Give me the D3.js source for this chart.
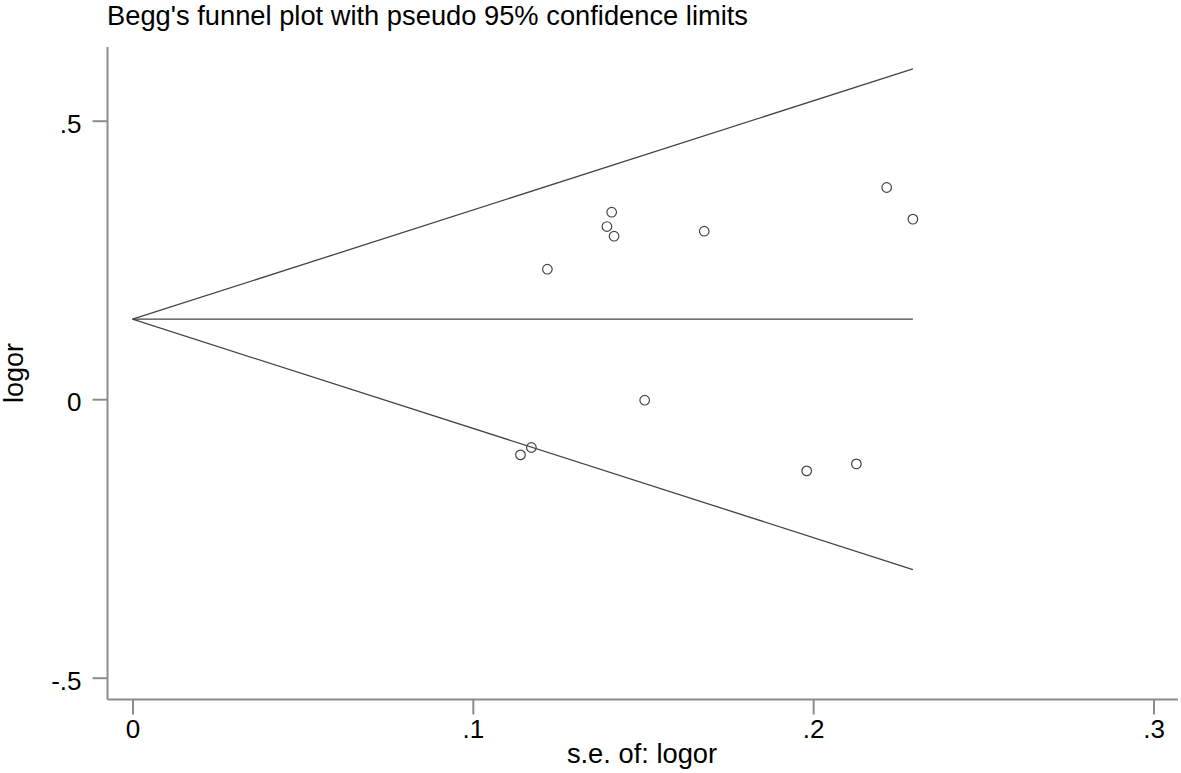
<!DOCTYPE html>
<html lang="en">
<head>
  <title>Begg's funnel plot</title>
  <meta charset="utf-8">
  <script src="https://d3js.org/d3.v7.min.js" charset="utf-8"></script>
  <style>
    body { margin: 0; background: #fff; }
    text { font-family: "Liberation Sans", Arial, sans-serif; fill: #000; }
  </style>
</head>
<body>
  <script>
  // study estimates
  var se    = [0.1219, 0.1408, 0.1394, 0.1415, 0.1680, 0.2216, 0.2293, 0.1505, 0.1140, 0.1172, 0.1981, 0.2127];
  var logor = [0.2334, 0.3357, 0.3100, 0.2926, 0.3016, 0.3801, 0.3232, -0.0018, -0.1000, -0.0867, -0.1287, -0.1162];

  // pseudo 95% limits: end points at se = 0 and se = max
  var limitSE    = [0, 0.2293];
  var pooled     = [0.1436, 0.1436];
  var upperLimit = [0.1436, 0.5930];
  var lowerLimit = [0.1436, -0.3058];

  var xTicks = [0, 0.1, 0.2, 0.3];
  var xTickLabels = ["0", ".1", ".2", ".3"];
  var yTicks = [-0.5, 0, 0.5];
  var yTickLabels = ["-.5", "0", ".5"];

  var w = 1181, h = 773;
  var axisX = 107.5, axisY = 699.5;

  var x = d3.scaleLinear().domain([0, 0.3]).range([132.5, 1153.5]);
  var y = d3.scaleLinear().domain([-0.5, 0.5]).range([677.7, 120.7]);

  var svg = d3.select("body").append("svg")
    .attr("width", w)
    .attr("height", h);

  // title
  svg.append("text")
    .attr("x", 107)
    .attr("y", 24.5)
    .attr("font-size", 27.3)
    .text("Begg's funnel plot with pseudo 95% confidence limits");

  // axis lines
  svg.append("line")
    .attr("x1", axisX).attr("y1", 47)
    .attr("x2", axisX).attr("y2", axisY)
    .attr("stroke", "#8c8c8c").attr("stroke-width", 2);
  svg.append("line")
    .attr("x1", axisX).attr("y1", axisY)
    .attr("x2", 1178).attr("y2", axisY)
    .attr("stroke", "#8c8c8c").attr("stroke-width", 2);

  var xAxis = svg.append("g")
    .attr("transform", "translate(0," + axisY + ")")
    .call(d3.axisBottom(x).tickValues(xTicks).tickSize(15).tickPadding(5)
      .tickFormat(function(d, i) { return xTickLabels[i]; }));
  var yAxis = svg.append("g")
    .attr("transform", "translate(" + axisX + ",0)")
    .call(d3.axisLeft(y).tickValues(yTicks).tickSize(15).tickPadding(11)
      .tickFormat(function(d, i) { return yTickLabels[i]; }));

  [xAxis, yAxis].forEach(function(g) {
    g.select(".domain").remove();
    g.selectAll(".tick line").attr("stroke", "#8c8c8c").attr("stroke-width", 2);
    g.selectAll(".tick text")
      .attr("font-size", 26)
      .attr("font-family", "Liberation Sans, Arial, sans-serif")
      .attr("fill", "#000");
  });
  yAxis.selectAll(".tick text").attr("dy", "0.44em");

  // axis titles
  svg.append("text")
    .attr("x", 642)
    .attr("y", 763)
    .attr("text-anchor", "middle")
    .attr("font-size", 27.3)
    .text("s.e. of: logor");
  svg.append("text")
    .attr("text-anchor", "middle")
    .attr("font-size", 27)
    .attr("transform", "translate(23,373) rotate(-90)")
    .text("logor");

  // funnel lines
  var line = d3.line()
    .x(function(d) { return x(d[0]); })
    .y(function(d) { return y(d[1]); });

  [upperLimit, pooled, lowerLimit].forEach(function(vals) {
    svg.append("path")
      .datum(d3.zip(limitSE, vals))
      .attr("d", line)
      .attr("fill", "none")
      .attr("stroke", "#444")
      .attr("stroke-width", 1.3);
  });

  // studies
  svg.selectAll("circle.study")
    .data(d3.zip(se, logor))
    .enter()
    .append("circle")
    .attr("class", "study")
    .attr("cx", function(d) { return x(d[0]); })
    .attr("cy", function(d) { return y(d[1]); })
    .attr("r", 4.8)
    .attr("fill", "none")
    .attr("stroke", "#444")
    .attr("stroke-width", 1.2);
  </script>
</body>
</html>
